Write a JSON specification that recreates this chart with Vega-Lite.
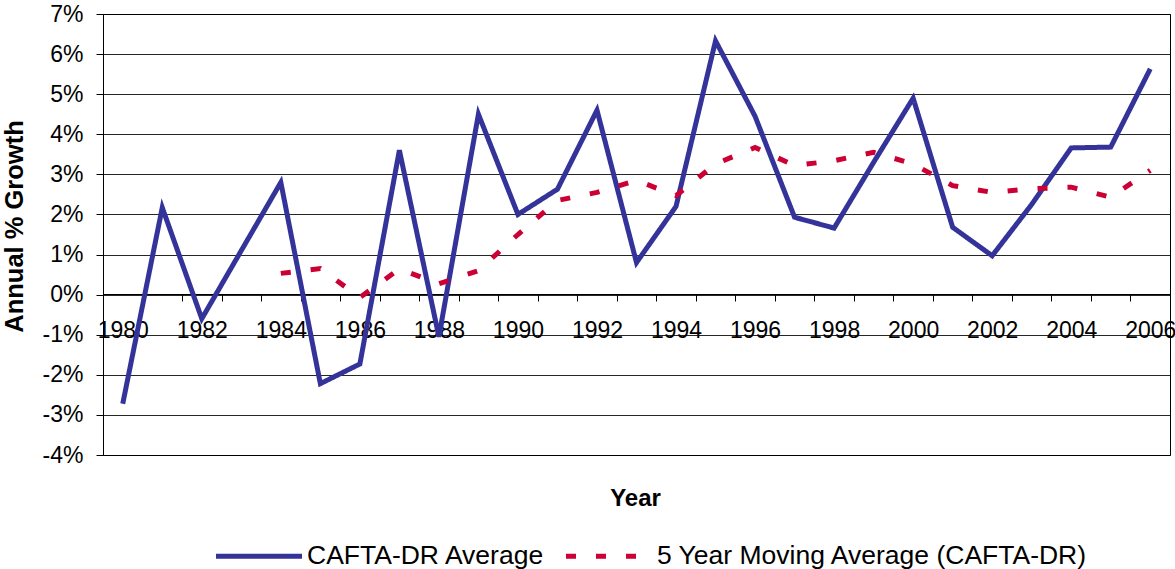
{
  "$schema": "https://vega.github.io/schema/vega-lite/v6.json",
  "width": 1067,
  "height": 441,
  "autosize": {"type": "none"},
  "padding": {"left": 103, "top": 14, "right": 5, "bottom": 114},
  "background": "white",
  "config": {
    "font": "Liberation Sans",
    "view": {"stroke": "#000", "strokeWidth": 1},
    "legend": {
      "orient": "none",
      "legendX": 110,
      "legendY": 496,
      "direction": "horizontal",
      "symbolType": "stroke",
      "symbolSize": 7400,
      "symbolStrokeWidth": 5,
      "labelFontSize": 26.5,
      "labelColor": "#000",
      "labelOffset": 2,
      "columnPadding": 10,
      "labelLimit": 0,
      "title": null
    }
  },
  "data": {
    "values": [
      {"year": "1980", "series": "CAFTA-DR Average", "value": -2.72},
      {"year": "1981", "series": "CAFTA-DR Average", "value": 2.17},
      {"year": "1982", "series": "CAFTA-DR Average", "value": -0.6},
      {"year": "1983", "series": "CAFTA-DR Average", "value": 1.1},
      {"year": "1984", "series": "CAFTA-DR Average", "value": 2.8},
      {"year": "1985", "series": "CAFTA-DR Average", "value": -2.22},
      {"year": "1986", "series": "CAFTA-DR Average", "value": -1.73},
      {"year": "1987", "series": "CAFTA-DR Average", "value": 3.6},
      {"year": "1988", "series": "CAFTA-DR Average", "value": -1.05},
      {"year": "1989", "series": "CAFTA-DR Average", "value": 4.5},
      {"year": "1990", "series": "CAFTA-DR Average", "value": 2.0},
      {"year": "1991", "series": "CAFTA-DR Average", "value": 2.63},
      {"year": "1992", "series": "CAFTA-DR Average", "value": 4.6},
      {"year": "1993", "series": "CAFTA-DR Average", "value": 0.8},
      {"year": "1994", "series": "CAFTA-DR Average", "value": 2.2},
      {"year": "1995", "series": "CAFTA-DR Average", "value": 6.33},
      {"year": "1996", "series": "CAFTA-DR Average", "value": 4.45},
      {"year": "1997", "series": "CAFTA-DR Average", "value": 1.93},
      {"year": "1998", "series": "CAFTA-DR Average", "value": 1.66},
      {"year": "1999", "series": "CAFTA-DR Average", "value": 3.3},
      {"year": "2000", "series": "CAFTA-DR Average", "value": 4.9},
      {"year": "2001", "series": "CAFTA-DR Average", "value": 1.68},
      {"year": "2002", "series": "CAFTA-DR Average", "value": 0.97},
      {"year": "2003", "series": "CAFTA-DR Average", "value": 2.25},
      {"year": "2004", "series": "CAFTA-DR Average", "value": 3.66},
      {"year": "2005", "series": "CAFTA-DR Average", "value": 3.68},
      {"year": "2006", "series": "CAFTA-DR Average", "value": 5.63},
      {"year": "1984", "series": "5 Year Moving Average (CAFTA-DR)", "value": 0.53},
      {"year": "1985", "series": "5 Year Moving Average (CAFTA-DR)", "value": 0.65},
      {"year": "1986", "series": "5 Year Moving Average (CAFTA-DR)", "value": -0.07},
      {"year": "1987", "series": "5 Year Moving Average (CAFTA-DR)", "value": 0.64},
      {"year": "1988", "series": "5 Year Moving Average (CAFTA-DR)", "value": 0.27},
      {"year": "1989", "series": "5 Year Moving Average (CAFTA-DR)", "value": 0.6},
      {"year": "1990", "series": "5 Year Moving Average (CAFTA-DR)", "value": 1.5},
      {"year": "1991", "series": "5 Year Moving Average (CAFTA-DR)", "value": 2.35},
      {"year": "1992", "series": "5 Year Moving Average (CAFTA-DR)", "value": 2.55},
      {"year": "1993", "series": "5 Year Moving Average (CAFTA-DR)", "value": 2.85},
      {"year": "1994", "series": "5 Year Moving Average (CAFTA-DR)", "value": 2.47},
      {"year": "1995", "series": "5 Year Moving Average (CAFTA-DR)", "value": 3.26},
      {"year": "1996", "series": "5 Year Moving Average (CAFTA-DR)", "value": 3.67},
      {"year": "1997", "series": "5 Year Moving Average (CAFTA-DR)", "value": 3.22},
      {"year": "1998", "series": "5 Year Moving Average (CAFTA-DR)", "value": 3.34},
      {"year": "1999", "series": "5 Year Moving Average (CAFTA-DR)", "value": 3.55},
      {"year": "2000", "series": "5 Year Moving Average (CAFTA-DR)", "value": 3.26},
      {"year": "2001", "series": "5 Year Moving Average (CAFTA-DR)", "value": 2.72},
      {"year": "2002", "series": "5 Year Moving Average (CAFTA-DR)", "value": 2.55},
      {"year": "2003", "series": "5 Year Moving Average (CAFTA-DR)", "value": 2.64},
      {"year": "2004", "series": "5 Year Moving Average (CAFTA-DR)", "value": 2.68},
      {"year": "2005", "series": "5 Year Moving Average (CAFTA-DR)", "value": 2.43},
      {"year": "2006", "series": "5 Year Moving Average (CAFTA-DR)", "value": 3.1}
    ]
  },
  "mark": {"type": "line", "strokeWidth": 5, "strokeCap": "butt"},
  "encoding": {
    "x": {
      "field": "year",
      "type": "ordinal",
      "bandPosition": 0.5,
      "scale": {"type": "band", "paddingInner": 0, "paddingOuter": 0},
      "axis": {
        "title": "Year",
        "offset": -161,
        "grid": false,
        "domainColor": "#000",
        "domainWidth": 1,
        "tickColor": "#000",
        "tickSize": 7,
        "tickBand": "extent",
        "labelAngle": 0,
        "labelFontSize": 23,
        "labelColor": "#000",
        "labelPadding": 18,
        "labelOverlap": false,
        "labelBound": false,
        "labelFlush": false,
        "labelExpr": "toNumber(datum.value) % 2 == 0 ? datum.value : ''",
        "titleFontSize": 24,
        "titleFontWeight": "bold",
        "titleColor": "#000",
        "titleX": 532,
        "titleY": 204,
        "titleBaseline": "middle",
        "titleAlign": "center"
      }
    },
    "y": {
      "field": "value",
      "type": "quantitative",
      "scale": {"domain": [-4, 7], "nice": false, "zero": false},
      "axis": {
        "title": "Annual % Growth",
        "values": [-4, -3, -2, -1, 0, 1, 2, 3, 4, 5, 6, 7],
        "labelExpr": "datum.value + '%'",
        "labelFontSize": 23,
        "labelColor": "#000",
        "labelPadding": 13,
        "tickSize": 7,
        "tickColor": "#000",
        "domainColor": "#000",
        "gridColor": "#000",
        "gridOpacity": 0.85,
        "titleFontSize": 25.5,
        "titleFontWeight": "bold",
        "titleColor": "#000",
        "titleX": -89,
        "titleY": 212,
        "titleAngle": -90,
        "titleBaseline": "middle",
        "titleAlign": "center"
      }
    },
    "color": {
      "field": "series",
      "type": "nominal",
      "scale": {
        "domain": ["CAFTA-DR Average", "5 Year Moving Average (CAFTA-DR)"],
        "range": ["#333399", "#CC0033"]
      },
      "legend": {"title": null}
    },
    "strokeDash": {
      "field": "series",
      "type": "nominal",
      "scale": {
        "domain": ["CAFTA-DR Average", "5 Year Moving Average (CAFTA-DR)"],
        "range": [[1, 0], [10, 20]]
      },
      "legend": {"title": null}
    }
  }
}
